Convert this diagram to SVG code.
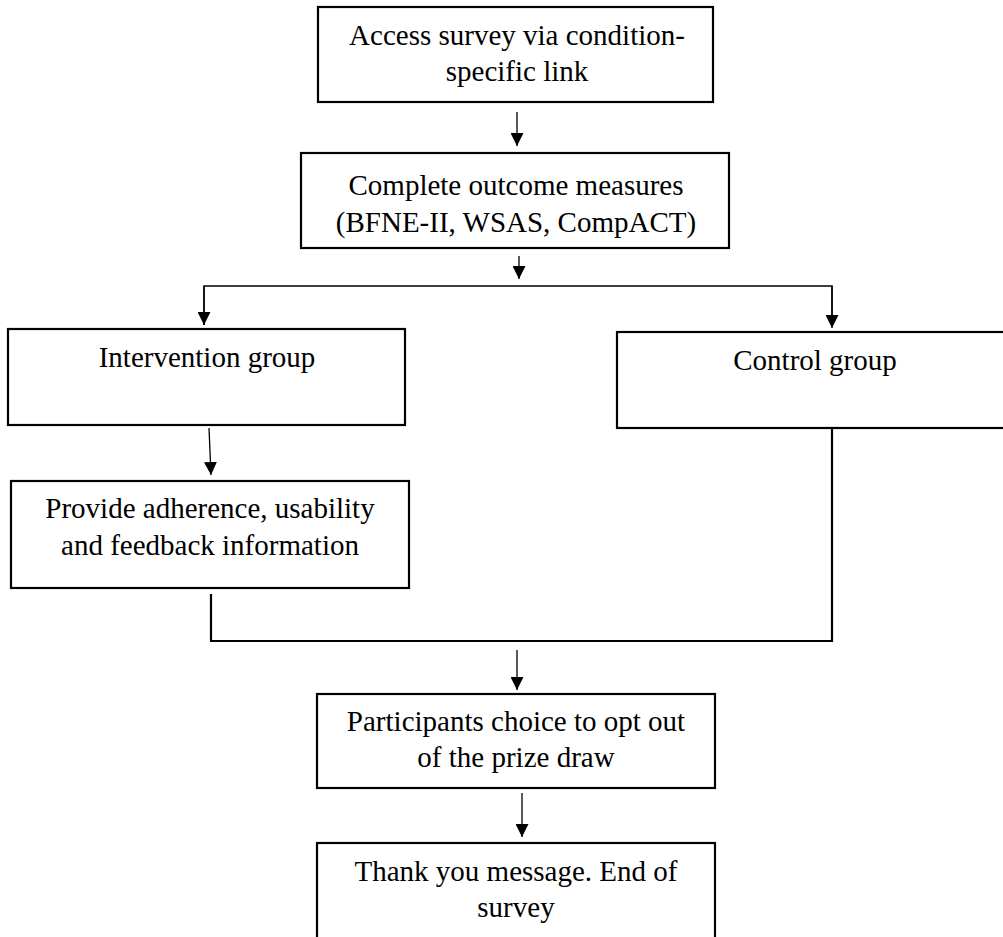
<svg xmlns="http://www.w3.org/2000/svg" width="1003" height="937" viewBox="0 0 1003 937">
<defs>
<marker id="ah" markerWidth="13" markerHeight="13" refX="13" refY="6.5" orient="auto" markerUnits="userSpaceOnUse">
<path d="M0,0 L13,6.5 L0,13 Z" fill="#000"/>
</marker>
<style>
.box{fill:#fff;stroke:#000;stroke-width:2.2}
.t{font-family:"Liberation Serif","Times New Roman",serif;font-size:29px;fill:#000;text-anchor:middle}
.arr{stroke:#000;stroke-width:1.3;fill:none;marker-end:url(#ah)}
.ln{stroke:#000;stroke-width:2.2;fill:none}
.ln1{stroke:#000;stroke-width:1.5;fill:none}
</style>
</defs>
<rect width="1003" height="937" fill="#fff"/>
<g id="connectors">
<line class="arr" x1="517" y1="112" x2="517" y2="146"/>
<line class="arr" x1="519" y1="256" x2="519" y2="279"/>
<polyline class="ln1" points="204,325 204,286 832,286 832,325"/>
<line class="arr" x1="204" y1="286" x2="204" y2="325"/>
<line class="arr" x1="832" y1="286" x2="832" y2="328"/>
<line class="arr" x1="209" y1="428" x2="211" y2="475"/>
<polyline class="ln" points="211,594 211,641 832,641 832,428"/>
<line class="arr" x1="517" y1="650" x2="517" y2="690"/>
<line class="arr" x1="522" y1="793" x2="522" y2="837"/>
</g>
<g id="n1">
<rect class="box" x="318" y="7" width="395" height="95"/>
<text class="t" x="517" y="45">Access survey via condition-</text>
<text class="t" x="517" y="81">specific link</text>
</g>
<g id="n2">
<rect class="box" x="301" y="153" width="428" height="95"/>
<text class="t" x="516" y="195">Complete outcome measures</text>
<text class="t" x="516" y="232">(BFNE-II, WSAS, CompACT)</text>
</g>
<g id="n3">
<rect class="box" x="8" y="329" width="397" height="96"/>
<text class="t" x="207" y="367">Intervention group</text>
</g>
<g id="n4">
<rect class="box" x="617" y="332" width="400" height="96"/>
<text class="t" x="815" y="370">Control group</text>
</g>
<g id="n5">
<rect class="box" x="11" y="481" width="398" height="107"/>
<text class="t" x="210" y="518">Provide adherence, usability</text>
<text class="t" x="210" y="555">and feedback information</text>
</g>
<g id="n6">
<rect class="box" x="317" y="694" width="398" height="94"/>
<text class="t" x="516" y="731">Participants choice to opt out</text>
<text class="t" x="516" y="767">of the prize draw</text>
</g>
<g id="n7">
<rect class="box" x="317" y="843" width="398" height="110"/>
<text class="t" x="516" y="881">Thank you message. End of</text>
<text class="t" x="516" y="917">survey</text>
</g>
</svg>
